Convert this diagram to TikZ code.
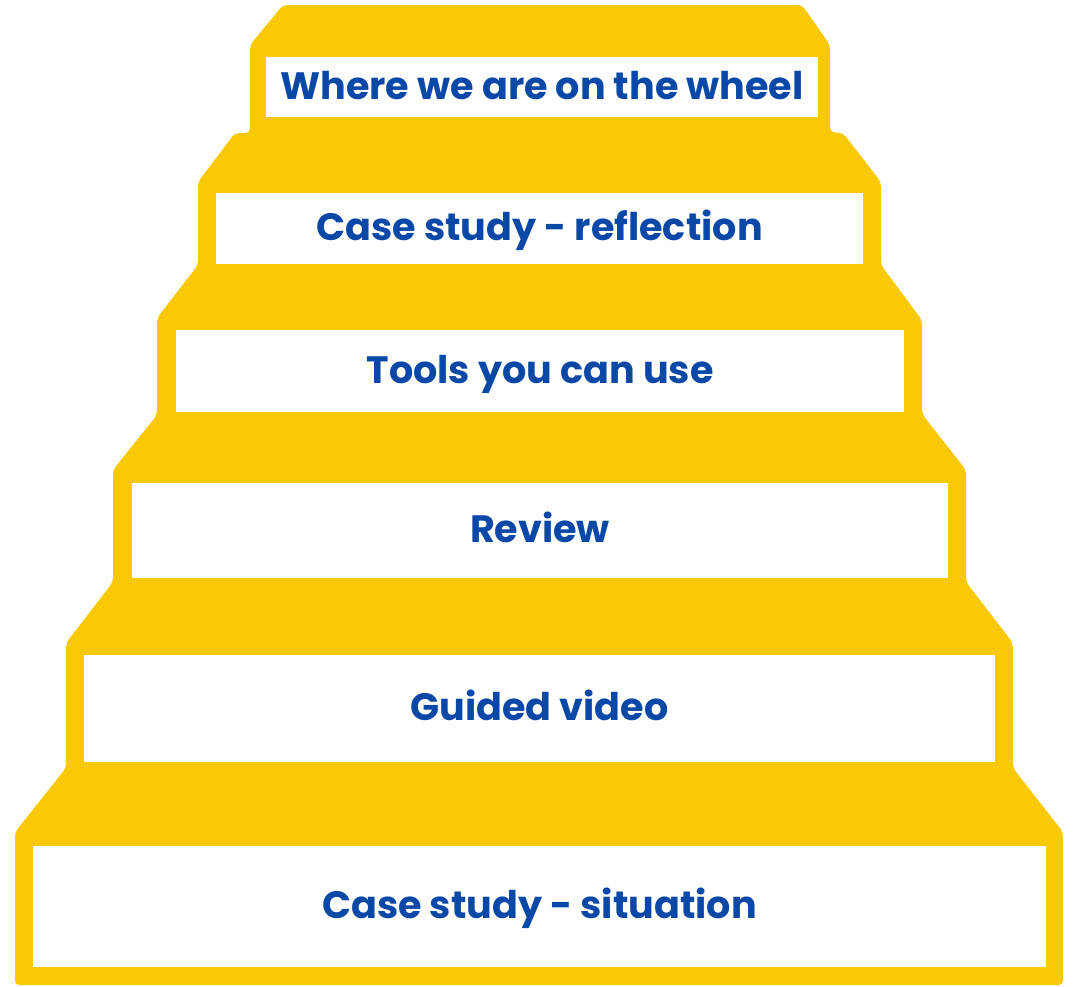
\documentclass[tikz,border=0pt]{standalone}
\usepackage{fontspec}
\setmainfont{Poppins}
\definecolor{stairyellow}{RGB}{249,201,5}
\definecolor{stairblue}{RGB}{10,72,168}
\tikzset{
  stepbox/.style={fill=white, inner sep=0pt, text=stairblue, text height=14pt, text depth=0pt,
    font=\bfseries\fontsize{21.7}{25}\selectfont},
}
\begin{document}
\begin{tikzpicture}[x=0.02cm,y=-0.02cm]
\useasboundingbox (0,0) rectangle (1080,987);
% yellow staircase outline
\fill[stairyellow,rounded corners=2.5pt] (15,985) -- (15,832) -- (66,768) -- (66,643) -- (113,582) -- (113,470)
  -- (157,415) -- (157,318) -- (198,265) -- (198,182) -- (235,133) -- (250,133) -- (250,45) -- (283,5)
  -- (802,5) -- (830,45) -- (830,132) -- (843,133) -- (881,182) -- (881,265) -- (922,320) -- (922,414)
  -- (966,470) -- (966,582) -- (1013,643) -- (1013,768) -- (1063,832) -- (1063,985) -- cycle;
% steps, bottom to top
\node[stepbox,minimum width=20.26cm,minimum height=2.42cm] (situation) at (539.5,906.5) {Case study - situation};
\node[stepbox,minimum width=18.22cm,minimum height=2.14cm] (video) at (539.5,708.5) {Guided video};
\node[stepbox,minimum width=16.32cm,minimum height=1.90cm] (review) at (540,530.5) {Review};
\node[stepbox,minimum width=14.56cm,minimum height=1.64cm] (tools) at (540,371) {Tools you can use};
\node[stepbox,minimum width=12.94cm,minimum height=1.42cm] (reflection) at (539.5,228.5) {Case study - reflection};
\node[stepbox,minimum width=11.04cm,minimum height=1.20cm] (wheel) at (542,87) {Where we are on the wheel};
\end{tikzpicture}
\end{document}
